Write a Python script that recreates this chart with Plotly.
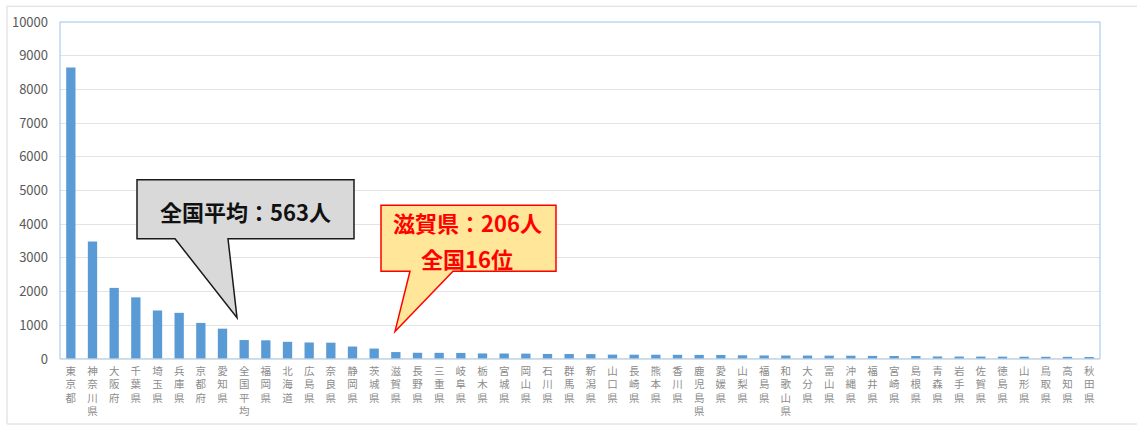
import plotly.graph_objects as go

prefectures = ["東京都", "神奈川県", "大阪府", "千葉県", "埼玉県", "兵庫県", "京都府", "愛知県", "全国平均",
               "福岡県", "北海道", "広島県", "奈良県", "静岡県", "茨城県", "滋賀県", "長野県", "三重県",
               "岐阜県", "栃木県", "宮城県", "岡山県", "石川県", "群馬県", "新潟県", "山口県", "長崎県",
               "熊本県", "香川県", "鹿児島県", "愛媛県", "山梨県", "福島県", "和歌山県", "大分県", "富山県",
               "沖縄県", "福井県", "宮崎県", "島根県", "青森県", "岩手県", "佐賀県", "徳島県", "山形県",
               "鳥取県", "高知県", "秋田県"]
values = [8650, 3490, 2110, 1830, 1440, 1370, 1070, 900, 563,
          555, 510, 490, 485, 370, 310, 206, 185, 183,
          180, 165, 163, 160, 150, 148, 145, 130, 128,
          127, 125, 122, 120, 110, 105, 104, 102, 100,
          98, 92, 90, 88, 75, 73, 72, 70, 68,
          66, 64, 50]
y_ticks = [0, 1000, 2000, 3000, 4000, 5000, 6000, 7000, 8000, 9000, 10000]

avg_label = "全国平均"
shiga = "滋賀県"
avg_val = values[prefectures.index(avg_label)]
shiga_val = values[prefectures.index(shiga)]
shiga_rank = 16

FONT = "Noto Sans CJK JP"
W, H = 1137, 430
L, R, T, B = 60, 37, 20, 68
pw, ph = W - L - R, H - T - B
n = len(prefectures)


def px_x(px):
    # pixel -> category-axis coordinate
    return (px - L) / pw * n - 0.5


def px_y(py):
    return (T + ph - py) / ph * 10000


fig = go.Figure()
fig.add_trace(go.Bar(
    x=list(range(n)), y=values,
    marker=dict(color="#5b9bd5", line=dict(width=0)),
    width=0.43,
))

shapes = []
# outer chart border (right edge falls outside the picture)
shapes.append(dict(type="rect", xref="paper", yref="paper",
                   x0=(7 - L) / pw, x1=1.3,
                   y0=(T + ph - 428) / ph, y1=(T + ph - 4) / ph,
                   line=dict(color="#d9d9d9", width=1), fillcolor="rgba(0,0,0,0)", layer="below"))
# plot frame (blue)
shapes.append(dict(type="rect", xref="paper", yref="paper", x0=0, x1=1, y0=0, y1=1,
                   line=dict(color="#9dc3e6", width=1), layer="above"))
# zero line
shapes.append(dict(type="line", xref="paper", yref="y", x0=0, x1=1, y0=0, y1=0,
                   line=dict(color="#d0d0d0", width=1), layer="above"))


def callout(box, base, tip, fill, stroke):
    x0, y0, x1, y1 = box
    b0, b1 = base
    tx, ty = tip
    pts = [(x0, y0), (x1, y0), (x1, y1), (b1, y1), (tx, ty), (b0, y1), (x0, y1)]
    path = "M " + " L ".join(f"{px_x(a):.4f},{px_y(b):.2f}" for a, b in pts) + " Z"
    return dict(type="path", xref="x", yref="y", path=path,
                fillcolor=fill, line=dict(color=stroke, width=1.5), layer="above")


shapes.append(callout((137, 180, 354, 240), (175, 228), (237, 320), "#d9d9d9", "#1a1a1a"))
shapes.append(callout((381, 206, 556, 273), (410, 453), (395, 334), "#ffe699", "#ff0000"))

annotations = [
    dict(x=px_x(245), y=px_y(212), xref="x", yref="y", showarrow=False,
         text=f"<b>{avg_label}：{avg_val}人</b>", font=dict(family=FONT, size=22, color="#111111")),
    dict(x=px_x(467), y=px_y(223), xref="x", yref="y", showarrow=False,
         text=f"<b>{shiga}：{shiga_val}人</b>", font=dict(family=FONT, size=22, color="#ff0000")),
    dict(x=px_x(467), y=px_y(259), xref="x", yref="y", showarrow=False,
         text=f"<b>全国{shiga_rank}位</b>", font=dict(family=FONT, size=22, color="#ff0000")),
]

fig.update_layout(
    width=W, height=H,
    margin=dict(l=L, r=R, t=T, b=B, pad=0),
    paper_bgcolor="white", plot_bgcolor="white",
    showlegend=False,
    bargap=0.57,
    shapes=shapes,
    annotations=annotations,
    xaxis=dict(
        tickmode="array", tickvals=list(range(n)),
        ticktext=["<br>".join(p) for p in prefectures],
        tickangle=0, range=[-0.5, n - 0.5],
        tickfont=dict(family=FONT, size=10.5, color="#8c8c8c"),
        showgrid=False, zeroline=False, showline=False, ticks="",
        ticklabelstandoff=4,
    ),
    yaxis=dict(
        range=[0, 10000], tickvals=y_ticks, ticktext=[str(v) for v in y_ticks],
        tickfont=dict(family=FONT, size=13, color="#595959"),
        showgrid=True, gridcolor="#e3e3e3", gridwidth=1,
        zeroline=False, showline=False, ticks="",
        ticklabelstandoff=11,
    ),
)

fig.write_html("out.html", config={"displayModeBar": False},
               post_script="document.body.style.margin='0';document.body.style.overflow='hidden';")
